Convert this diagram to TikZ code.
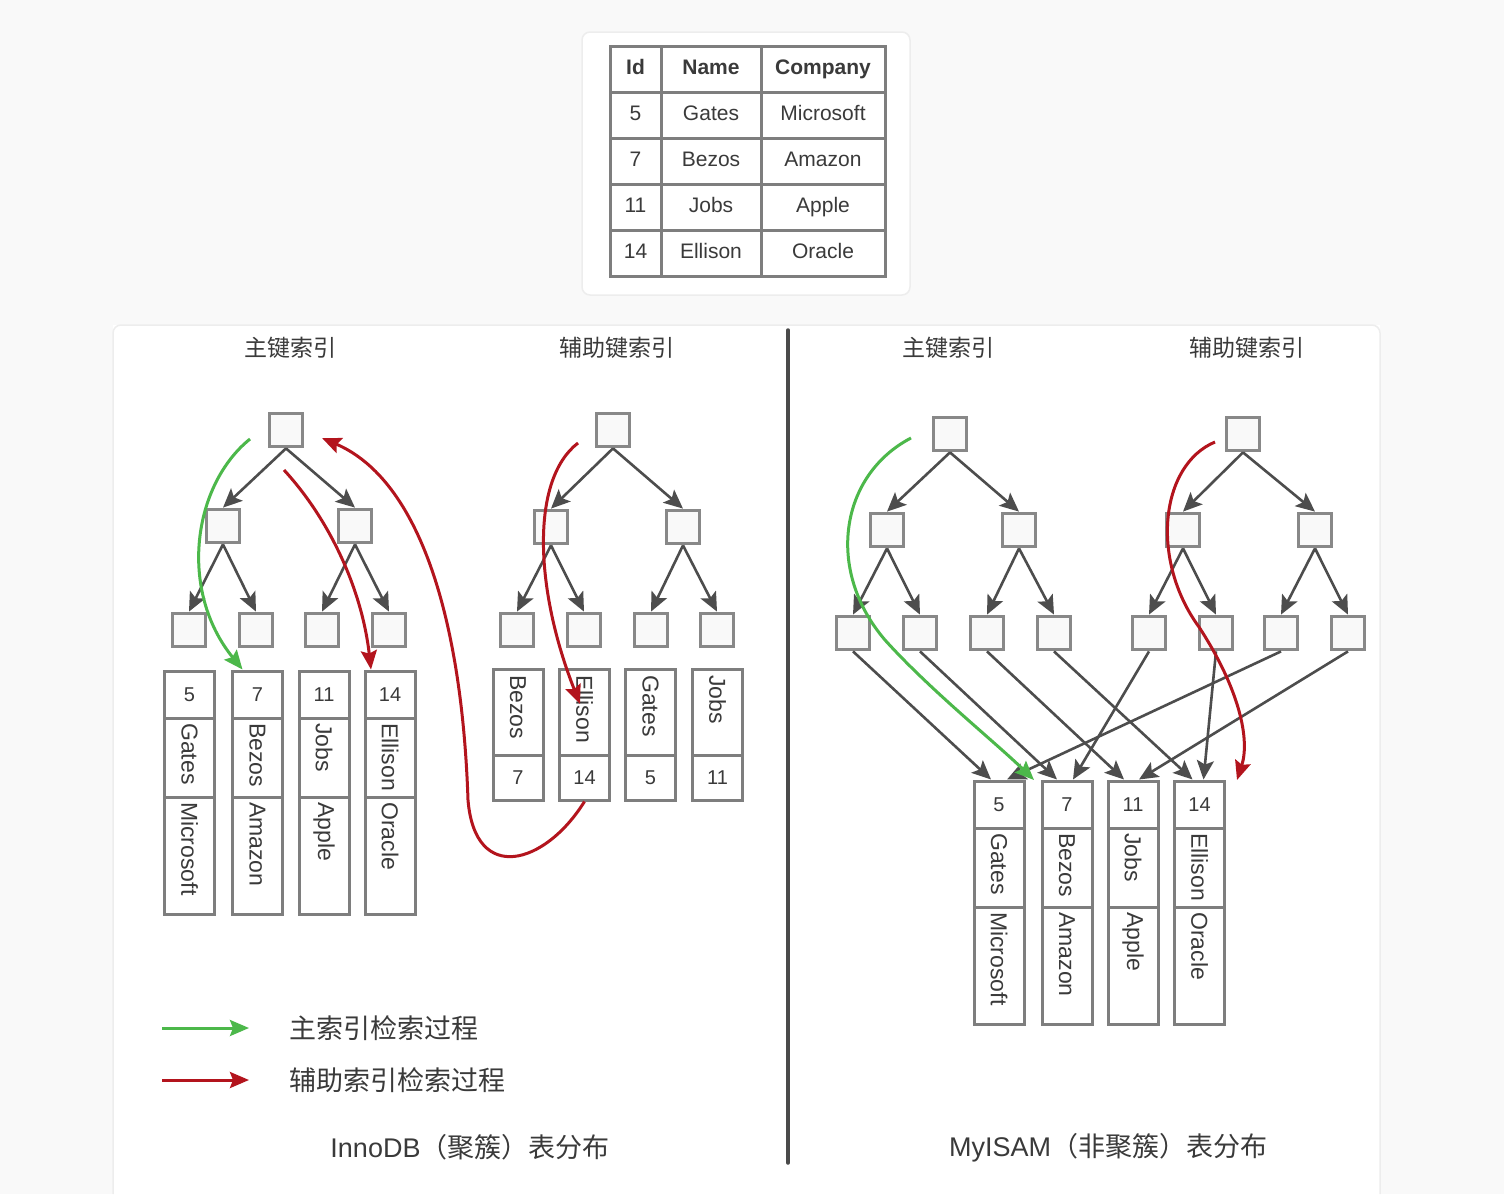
\documentclass[tikz,border=0pt]{standalone}
\usepackage{fontspec}
\setmainfont{Liberation Sans}
\newfontfamily\cjk{Noto Sans CJK SC}
\usetikzlibrary{arrows.meta,shadows,calc}
\definecolor{bgc}{HTML}{F9F9F9}
\definecolor{gline}{HTML}{7E7E7E}
\definecolor{sqline}{HTML}{888888}
\definecolor{arrc}{HTML}{4D4D4D}
\definecolor{grn}{HTML}{4CB84A}
\definecolor{rd}{HTML}{B3141D}
\definecolor{txt}{HTML}{3A3A3A}
\definecolor{divc}{HTML}{4A4A4A}
\newcommand\fsz[1]{\fontsize{#1}{#1}\selectfont}
% table row: index, y, col1, col2, col3
\newcommand\trow[5]{%
  \node[tcell, minimum width=51pt] (t#1a) at (635.5,#2) {#3};
  \node[tcell, minimum width=100pt] (t#1b) at (711,#2) {#4};
  \node[tcell, minimum width=124pt] (t#1c) at (823,#2) {#5};}
% full record: prefix, x, ytop, number, name, company
\newcommand\bigrec[6]{%
  \node[rcell, minimum height=47pt] (#1n) at (#2,#3+23.5) {#4};
  \node[rcell, minimum height=79pt] (#1m) at (#2,#3+86.5) {};
  \node[rcell, minimum height=117pt] (#1c) at (#2,#3+184.5) {};
  \node[rtext] (#1mt) at (#2,#3+52) {#5};
  \node[rtext] (#1ct) at (#2,#3+131) {#6};}
% secondary record: prefix, x, ytop, name, number
\newcommand\smallrec[5]{%
  \node[rcell, minimum height=86pt] (#1m) at (#2,#3+43) {};
  \node[rcell, minimum height=45pt] (#1n) at (#2,#3+108.5) {#5};
  \node[rtext] (#1mt) at (#2,#3+6) {#4};}
\begin{document}
\begin{tikzpicture}[x=1pt,y=-1pt,
  sq/.style={draw=sqline, line width=3.8pt, fill=gray!5, minimum size=33pt, inner sep=0pt,
    drop shadow={opacity=0.25, shadow xshift=1pt, shadow yshift=-1.5pt}},
  tarr/.style={draw=arrc, line width=2.6pt, -{Stealth[length=19pt,width=17pt,inset=4pt]}},
  tcell/.style={draw=gline, line width=3pt, minimum height=46pt, inner sep=0pt, text=txt,
    font=\fsz{21}, text height=15pt, text depth=4pt},
  rcell/.style={draw=gline, line width=3pt, fill=white, minimum width=50pt, inner sep=0pt, text=txt,
    font=\fsz{20}, text height=14pt, text depth=0pt},
  rtext/.style={rotate=-90, anchor=west, inner sep=0pt, text=txt, font=\fsz{23}},
  head/.style={text=txt, font=\cjk\fsz{23}},
  gcurve/.style={draw=grn, line width=3pt, -{Stealth[length=19pt,width=16pt,inset=3pt]}},
  rcurve/.style={draw=rd, line width=3pt, -{Stealth[length=19pt,width=16pt,inset=3pt]}},
  card/.style={fill=white, draw=black!7, line width=1.5pt, rounded corners=8pt}]
\useasboundingbox (0,0) rectangle (1504,1194);
\fill[bgc] (0,0) rectangle (1504,1194);
% cards
\draw[card] (582,32) rectangle (910,295);
\fill[white] (113,325) rectangle (1380,1194);
\draw[black!7, line width=1.5pt, rounded corners=8pt] (113,1194) -- (113,325) -- (1380,325) -- (1380,1194);
% table
\trow{0}{69}{\textbf{Id}}{\textbf{Name}}{\textbf{Company}}
\trow{1}{115}{5}{Gates}{Microsoft}
\trow{2}{161}{7}{Bezos}{Amazon}
\trow{3}{207}{11}{Jobs}{Apple}
\trow{4}{253}{14}{Ellison}{Oracle}
% divider
\draw[divc, line width=3.5pt, line cap=round] (788,330) -- (788,1163);
% headings
\node[head] (h1) at (290,348) {主键索引};
\node[head] (h2) at (617,348) {辅助键索引};
\node[head] (h3) at (948,348) {主键索引};
\node[head] (h4) at (1247,348) {辅助键索引};
% trees
\node[sq] (A0) at (286,430) {};
\node[sq] (A1) at (223,526) {};
\node[sq] (A2) at (355,526) {};
\node[sq] (A11) at (189,630) {};
\node[sq] (A12) at (256,630) {};
\node[sq] (A21) at (322,630) {};
\node[sq] (A22) at (389,630) {};
\node[sq] (B0) at (613,430) {};
\node[sq] (B1) at (551,527) {};
\node[sq] (B2) at (683,527) {};
\node[sq] (B11) at (517,630) {};
\node[sq] (B12) at (584,630) {};
\node[sq] (B21) at (651,630) {};
\node[sq] (B22) at (717,630) {};
\node[sq] (C0) at (950,434) {};
\node[sq] (C1) at (887,530) {};
\node[sq] (C2) at (1019,530) {};
\node[sq] (C11) at (853,633) {};
\node[sq] (C12) at (920,633) {};
\node[sq] (C21) at (987,633) {};
\node[sq] (C22) at (1054,633) {};
\node[sq] (D0) at (1243,434) {};
\node[sq] (D1) at (1183,530) {};
\node[sq] (D2) at (1315,530) {};
\node[sq] (D11) at (1149,633) {};
\node[sq] (D12) at (1216,633) {};
\node[sq] (D21) at (1281,633) {};
\node[sq] (D22) at (1348,633) {};
\foreach \t in {A,B,C,D}{
  \draw[tarr] (\t0.south) -- (\t1.north);
  \draw[tarr] (\t0.south) -- (\t2.north);
  \draw[tarr] (\t1.south) -- (\t11.north);
  \draw[tarr] (\t1.south) -- (\t12.north);
  \draw[tarr] (\t2.south) -- (\t21.north);
  \draw[tarr] (\t2.south) -- (\t22.north);
}
% records
\bigrec{P5}{189.5}{671}{5}{Gates}{Microsoft}
\bigrec{P7}{257.5}{671}{7}{Bezos}{Amazon}
\bigrec{P11}{324}{671}{11}{Jobs}{Apple}
\bigrec{P14}{390}{671}{14}{Ellison}{Oracle}
\smallrec{S7}{518}{669}{Bezos}{7}
\smallrec{S14}{584.5}{669}{Ellison}{14}
\smallrec{S5}{650.5}{669}{Gates}{5}
\smallrec{S11}{717.5}{669}{Jobs}{11}
\bigrec{R5}{999}{781}{5}{Gates}{Microsoft}
\bigrec{R7}{1067}{781}{7}{Bezos}{Amazon}
\bigrec{R11}{1133}{781}{11}{Jobs}{Apple}
\bigrec{R14}{1199.5}{781}{14}{Ellison}{Oracle}
% MyISAM leaf -> record pointers
\draw[tarr] (C11.south) -- ($(R5n.north)+(-8,0)$);
\draw[tarr] (C12.south) -- ($(R7n.north)+(-10,0)$);
\draw[tarr] (C21.south) -- ($(R11n.north)+(-9,0)$);
\draw[tarr] (C22.south) -- ($(R14n.north)+(-7,0)$);
\draw[tarr] (D11.south) -- ($(R7n.north)+(6,0)$);
\draw[tarr] (D12.south) -- ($(R14n.north)+(4,0)$);
\draw[tarr] (D21.south) -- ($(R5n.north)+(8,0)$);
\draw[tarr] (D22.south) -- ($(R11n.north)+(6,0)$);
% search paths
\coordinate (g1s) at (250,439);
\draw[gcurve] (g1s) .. controls (193,485) and (178,590) .. ($(P7n.north)+(-15,0)$);
\coordinate (r1s) at (284,470);
\draw[rcurve] (r1s) .. controls (330,520) and (362,590) .. ($(P14n.north)+(-19,0)$);
\coordinate (r2e) at (322,438);
\draw[rcurve] (S14n.south) .. controls (545,865) and (475,885) .. (468,800) .. controls (462,620) and (420,480) .. (r2e);
\coordinate (r3s) at (578,443);
\coordinate (r3e) at (580,704);
\draw[rcurve] (r3s) .. controls (530,480) and (535,590) .. (r3e);
\coordinate (g2s) at (911,438);
\coordinate (g2e) at (1034,780);
\draw[gcurve] (g2s) .. controls (840,475) and (825,570) .. (885,640) .. controls (930,690) and (995,742) .. (g2e);
\coordinate (r4s) at (1215,442);
\coordinate (r4e) at (1237,780);
\draw[rcurve] (r4s) .. controls (1160,465) and (1150,560) .. (1199,627) .. controls (1240,690) and (1250,740) .. (r4e);
% legend
\coordinate (lg1a) at (162,1028);
\coordinate (lg1b) at (249,1028);
\coordinate (lg2a) at (162,1080);
\coordinate (lg2b) at (249,1080);
\draw[gcurve] (lg1a) -- (lg1b);
\draw[rcurve] (lg2a) -- (lg2b);
\node[anchor=west, text=txt, font=\cjk\fsz{27}] (lt1) at (286,1028) {主索引检索过程};
\node[anchor=west, text=txt, font=\cjk\fsz{27}] (lt2) at (286,1080) {辅助索引检索过程};
% captions
\node[text=txt, font=\fsz{27}] (cap1) at (470,1147) {InnoDB{\cjk（聚簇）表分布}};
\node[text=txt, font=\fsz{27}] (cap2) at (1108,1148) {MyISAM{\cjk（非聚簇）表分布}};
\end{tikzpicture}
\end{document}
